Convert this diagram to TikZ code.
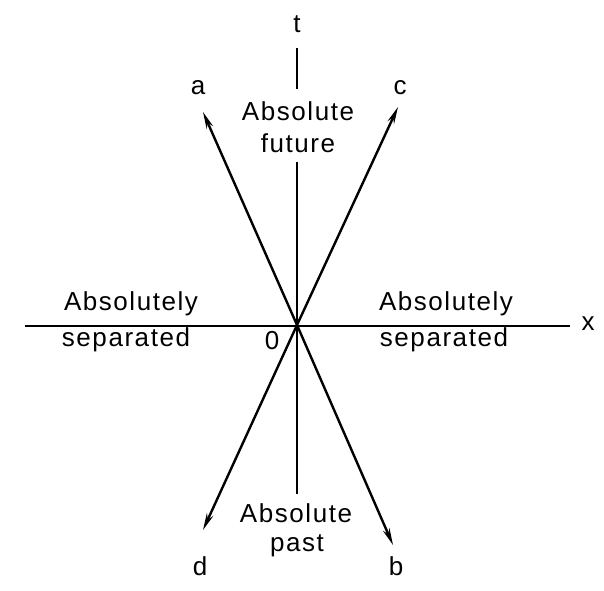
\documentclass[tikz,border=0pt]{standalone}
\usepackage{fontspec}
\setmainfont{Liberation Sans}[LetterSpace=6]
\usetikzlibrary{arrows.meta}
\begin{document}
\begin{tikzpicture}[x=1pt,y=-1pt,
  axis/.style={line width=2pt, black},
  ray/.style={line width=2.4pt, black},
  arr/.style={-{Stealth[length=17pt,width=7pt]}},
  lbl/.style={font=\fontsize{26}{28}\selectfont, inner sep=0pt},
  txt/.style={font=\fontsize{26}{28}\selectfont, inner sep=0pt, align=center}]
\useasboundingbox (0,0) rectangle (604,590);
\coordinate (O) at (297,325);
% axes
\coordinate (tTop) at (297,48);
\coordinate (tMid1) at (297,89);
\coordinate (tMid2) at (297,162);
\coordinate (tBot) at (297,494);
\coordinate (xL) at (25,326);
\coordinate (xR) at (570,326);
\draw[axis] (tTop) -- (tMid1);
\draw[axis] (tMid2) -- (tBot);
\draw[axis] (xL) -- (xR);
% rays
\coordinate (A) at (203,112);
\coordinate (B) at (393,545);
\coordinate (C) at (398,107);
\coordinate (D) at (203,530);
\draw[ray,arr] (O) -- (A);
\draw[ray,arr] (O) -- (B);
\draw[ray,arr] (O) -- (C);
\draw[ray,arr] (O) -- (D);
% labels
\node[lbl] (lt) at (297,24) {t};
\node[lbl] (lx) at (588,324) {x};
\node[lbl] (la) at (198,88) {a};
\node[lbl] (lc) at (400,88) {c};
\node[lbl] (ld) at (200,566) {d};
\node[lbl] (lb) at (396,566) {b};
\node[lbl] (lo) at (272,341) {0};
\node[txt] (fut1) at (298,111) {Absolute};
\node[txt] (fut2) at (298,143) {future};
\node[txt] (past1) at (296,513) {Absolute};
\node[txt] (past2) at (297,546) {past};
\node[txt] (sepL1) at (131,304) {Absolutely};
\node[txt] (sepL2) at (126,340) {separated};
\node[txt] (sepR1) at (446,304) {Absolutely};
\node[txt] (sepR2) at (444,340) {separated};
\end{tikzpicture}
\end{document}
